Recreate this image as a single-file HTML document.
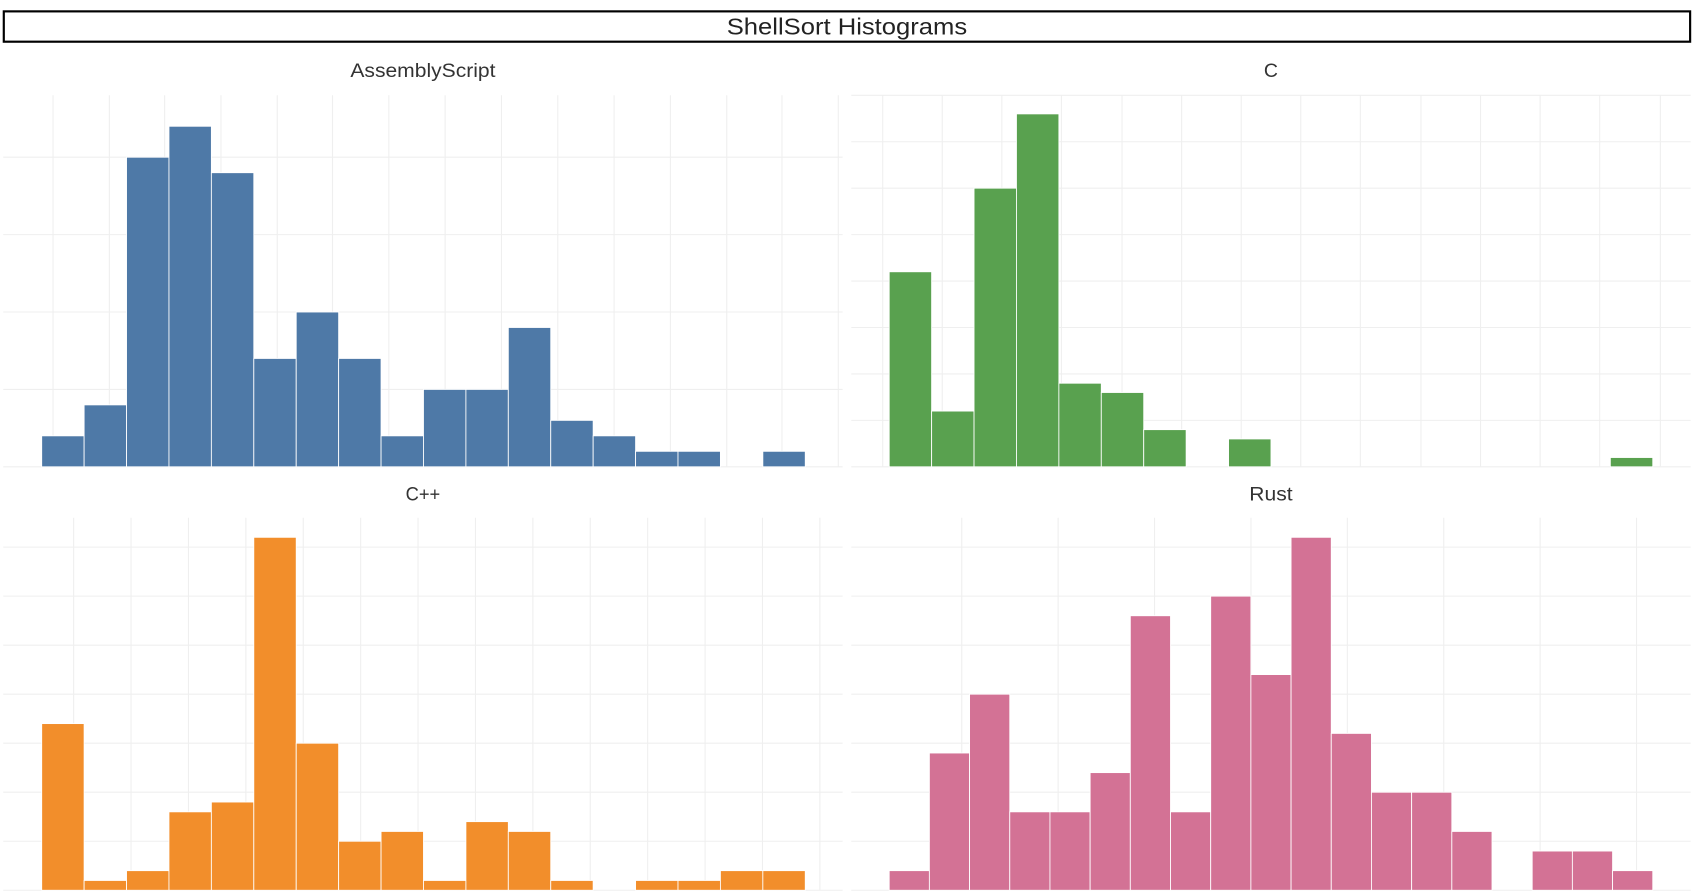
<!DOCTYPE html>
<html><head><meta charset="utf-8"><style>
html,body{margin:0;padding:0;background:#fff;}
svg{display:block;}
text{font-family:"Liberation Sans",sans-serif;fill:#333;}
</style></head><body>
<svg id="chart" width="1695" height="892" viewBox="0 0 1565 823.6" preserveAspectRatio="none" xmlns="http://www.w3.org/2000/svg">
<rect x="3.5" y="10.5" width="1557" height="28" fill="#fff" stroke="#000" stroke-width="2"/>
<text x="782" y="32" text-anchor="middle" font-size="21" textLength="222" lengthAdjust="spacingAndGlyphs" style="fill:#222">ShellSort Histograms</text>
<g id="panels"></g>
</svg>
<script>
const asmValues=[2,4,20,22,19,7,10,7,2,5,5,9,3,2,1,1,0,1];
const cValues=[21,6,30,38,9,8,4,0,3,0,0,0,0,0,0,0,0,1];
const cppValues=[17,1,2,8,9,36,15,5,6,1,7,6,1,0,1,1,2,2];
const rustValues=[2,14,20,8,8,12,28,8,30,22,36,16,10,10,6,0,4,4,2];
const panelNames=["AssemblyScript","C","C++","Rust"];

const NS="http://www.w3.org/2000/svg";
const root=document.getElementById('panels');
const panels=[
 {name:panelNames[0],vals:asmValues,color:"#4e79a7",x0:3,x1:778,top:88,base:431,titleY:71,tl:134,bx0:38.5,bx1:743.5,max:24,vgrid:[49,101,152,204,256,307,359,411,463,515,567,619,671,722,774]},
 {name:panelNames[1],vals:cValues,color:"#59a14f",x0:786,x1:1561,top:88,base:431,titleY:71,tl:0,bx0:821,bx1:1526,max:40,vgrid:[815,870,925,980,1036,1091,1146,1201,1256,1312,1367,1422,1477,1533]},
 {name:panelNames[2],vals:cppValues,color:"#f28e2b",x0:3,x1:778,top:478,base:822,titleY:462,tl:32,bx0:38.5,bx1:743.5,max:38,vgrid:[68,121,174,227,280,333,386,439,492,545,598,651,704,757]},
 {name:panelNames[3],vals:rustValues,color:"#d37295",x0:786,x1:1561,top:478,base:822,titleY:462,tl:40,bx0:821,bx1:1526,max:38,vgrid:[888,977,1066,1155,1244,1333,1422,1511]}
];
function mk(tag,attrs){const e=document.createElementNS(NS,tag);for(const k in attrs)e.setAttribute(k,attrs[k]);return e;}
panels.forEach(p=>{
 const g=mk('g',{});
 
 
 root.appendChild(g);
 const y=v=>p.base-(v/p.max)*(p.base-p.top);
 const ta={x:(p.x0+p.x1)/2,y:p.titleY,'text-anchor':'middle','font-size':'18'};
 if(p.tl){ta.textLength=p.tl;ta.lengthAdjust='spacingAndGlyphs';}
 const t=mk('text',ta);
 t.textContent=p.name;
 
 
 g.appendChild(t);
 p.vgrid.forEach(x=>{const l=mk('line',{x1:x,x2:x,y1:p.top,y2:p.base,stroke:'#efefef','stroke-width':1});
  
  
  g.appendChild(l);});
 for(let v=0;v<=p.max;v+=5){const l=mk('line',{x1:p.x0,x2:p.x1,y1:y(v),y2:y(v),stroke:'#efefef','stroke-width':1});
  
  
  g.appendChild(l);}
 const bw=(p.bx1-p.bx0)/p.vals.length;
 p.vals.forEach((v,i)=>{if(v<=0)return;
  const r=mk('rect',{x:p.bx0+i*bw,y:y(v),width:bw,height:p.base-y(v),fill:p.color,stroke:'#fff','stroke-width':0.8});
  
  
  g.appendChild(r);});
});
</script>
</body></html>
